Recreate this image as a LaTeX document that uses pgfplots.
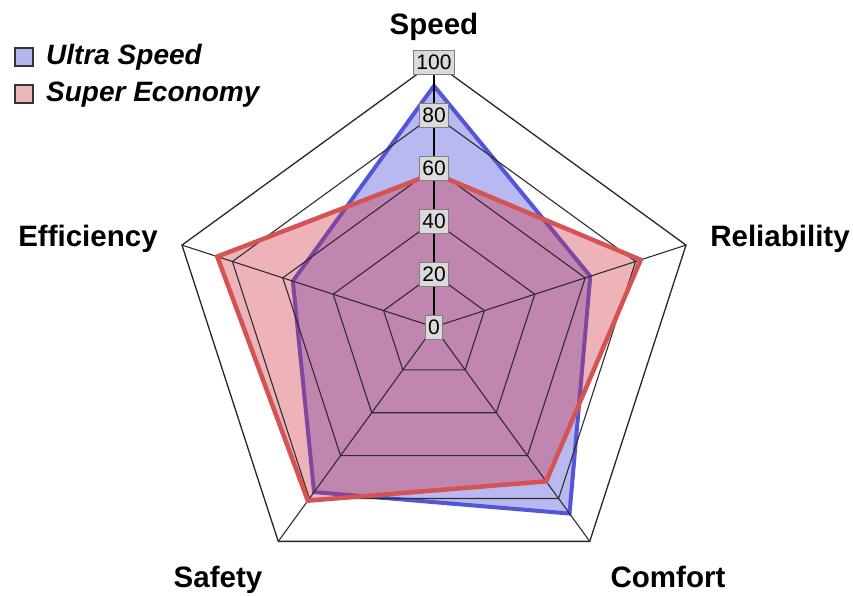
\documentclass[border=0pt]{standalone}
\usepackage{pgfplots}
\pgfplotsset{compat=1.18}
\usepgfplotslibrary{polar}
\usepackage{fontspec}
\setmainfont{Liberation Sans}
\definecolor{bluefill}{RGB}{60,60,220}
\definecolor{blueline}{RGB}{85,85,215}
\definecolor{redfill}{RGB}{207,45,59}
\definecolor{redline}{RGB}{212,84,84}
\definecolor{gridc}{RGB}{45,45,45}
\definecolor{tickbox}{RGB}{218,218,218}
\begin{document}
\begin{tikzpicture}
\useasboundingbox (0,0) rectangle (853pt,595pt);
\begin{polaraxis}[at={(434pt,268pt)}, anchor=center, scale only axis,
  width=530pt, height=530pt, hide axis, xmin=0, xmax=360, ymin=0, ymax=100, clip=false]
% Ultra Speed
\addplot[fill=bluefill, fill opacity=0.36, draw=none] coordinates {(90,91) (18,62) (306,87) (234,77) (162,56) (90,91)};
\addplot[blueline, line width=4pt] coordinates {(90,91) (18,62) (306,87) (234,77) (162,56) (90,91) (18,62)};
% Super Economy fill
\addplot[fill=redfill, fill opacity=0.36, draw=none] coordinates {(90,58) (18,82) (306,72) (234,81) (162,86) (90,58)};
% grid rings
\pgfplotsinvokeforeach{20,40,60,80}{
  \addplot[gridc, line width=1.1pt] coordinates {(90,#1) (18,#1) (306,#1) (234,#1) (162,#1) (90,#1)};
}
\addplot[black!85, line width=1.3pt] coordinates {(90,100) (18,100) (306,100) (234,100) (162,100) (90,100)};
% spokes
\pgfplotsinvokeforeach{18,306,234,162}{
  \addplot[gridc, line width=1.1pt] coordinates {(#1,0) (#1,100)};
}
% Super Economy outline
\addplot[redline, line width=4.5pt] coordinates {(90,58) (18,82) (306,72) (234,81) (162,86) (90,58) (18,82)};
\addplot[black, line width=2pt] coordinates {(90,0) (90,100)};
% tick labels
\pgfplotsinvokeforeach{0,20,40,60,80,100}{
  \node[fill=tickbox, draw=black!50, line width=0.8pt, inner xsep=3pt, inner ysep=2pt,
        minimum height=24pt, font=\fontsize{21}{22}\selectfont] at (axis cs:90,#1) {#1};
}
\end{polaraxis}
% category labels
\begin{scope}[every node/.style={font=\fontsize{29.5}{31}\selectfont\bfseries, inner sep=0pt}]
\node[anchor=base] at (434pt,560pt) {Speed};
\node[anchor=base] at (780pt,348pt) {Reliability};
\node[anchor=base] at (668pt,8pt) {Comfort};
\node[anchor=base] at (218pt,8pt) {Safety};
\node[anchor=base] at (88pt,348pt) {Efficiency};
\end{scope}
% legend
\draw[fill={rgb,255:red,182;green,182;blue,238}, draw=black!80, line width=1.5pt] (15pt,529pt) rectangle (33pt,547pt);
\draw[fill={rgb,255:red,236;green,182;blue,182}, draw=black!80, line width=1.5pt] (15pt,492pt) rectangle (33pt,510pt);
\node[anchor=base west, inner sep=0pt, font=\fontsize{28}{30}\selectfont\bfseries\itshape] at (46pt,530pt) {Ultra Speed};
\node[anchor=base west, inner sep=0pt, font=\fontsize{28}{30}\selectfont\bfseries\itshape] at (46pt,493pt) {Super Economy};
\end{tikzpicture}
\end{document}
